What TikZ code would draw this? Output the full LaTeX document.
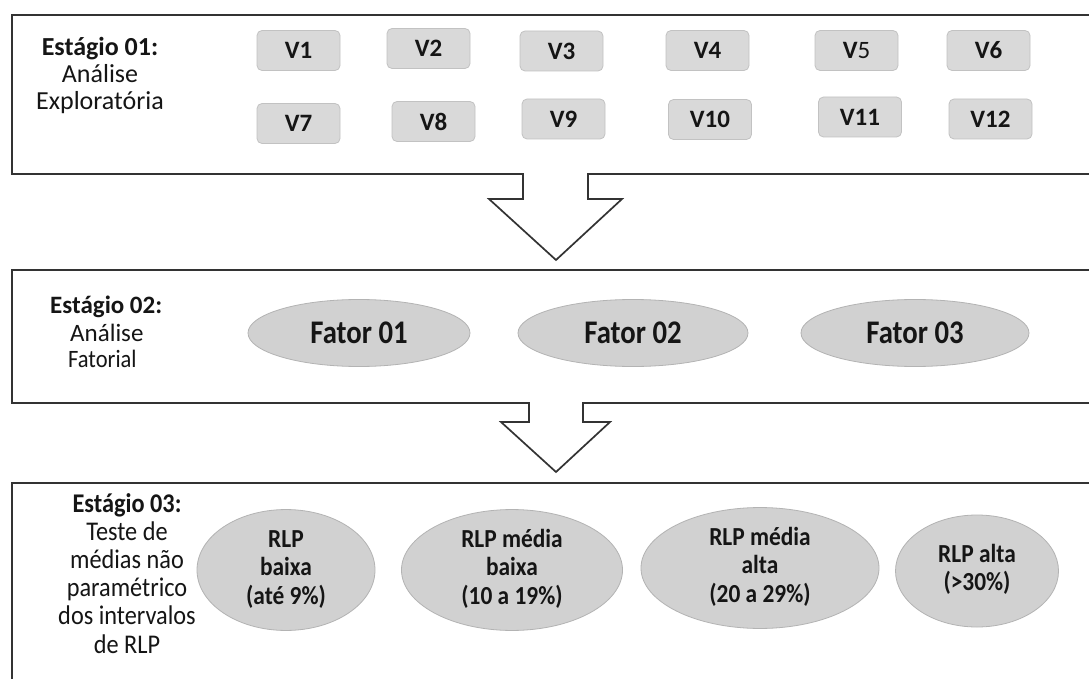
\documentclass[tikz,border=0pt]{standalone}
\usepackage{fontspec}
\setmainfont{Carlito}
\usetikzlibrary{shapes.geometric}
\definecolor{boxline}{HTML}{333333}
\definecolor{vfill}{HTML}{D9D9D9}
\definecolor{vline}{HTML}{C2C2C2}
\definecolor{efill}{HTML}{D1D1D1}
\definecolor{eline}{HTML}{B3B3B3}
\definecolor{txt}{HTML}{151515}
\newcommand{\condtext}[2]{\scalebox{#1}[1]{#2}}
\tikzset{
  frame/.style={draw=boxline, line width=1.7pt, line join=miter},
  vbox/.style={draw=vline, fill=vfill, line width=0.8pt, rounded corners=5pt,
    minimum width=83pt, minimum height=40pt, inner sep=0pt,
    font=\fontsize{25}{28}\selectfont\bfseries, text=txt},
  fator/.style={ellipse, draw=eline, fill=efill, line width=0.8pt, inner sep=0pt,
    minimum height=67pt, font=\fontsize{33}{36}\selectfont\bfseries, text=txt},
  rlp/.style={ellipse, draw=eline, fill=efill, line width=0.8pt, inner sep=0pt,
    align=center, font=\fontsize{26}{28.5}\selectfont\bfseries, text=txt},
  stagelbl/.style={align=center, inner sep=0pt, text=txt},
  lbltwo/.style={inner sep=0pt, anchor=west, text=txt},
}
\begin{document}
\begin{tikzpicture}[x=1pt, y=-1pt]
\useasboundingbox[fill=white] (0,0) rectangle (1089,679);
\clip (0,0) rectangle (1089,679);

% ---- frames with block arrows ----
\coordinate (a1l) at (523,174); \coordinate (a1r) at (588,174);
\coordinate (a1tip) at (556,260);
\draw[frame] (1100,15) -- (12,15) -- (12,174) -- (a1l) -- (523,199) -- (489,199)
  -- (a1tip) -- (622,199) -- (588,199) -- (a1r) -- (1100,174);

\coordinate (a2l) at (529,403); \coordinate (a2r) at (583,403);
\coordinate (a2tip) at (556,472);
\draw[frame] (1100,270) -- (12,270) -- (12,403) -- (a2l) -- (529,422) -- (501,422)
  -- (a2tip) -- (610,422) -- (583,422) -- (a2r) -- (1100,403);

\draw[frame] (1100,483) -- (12,483) -- (12,700);

% ---- stage 1 ----
\node[stagelbl, font=\fontsize{26}{27}\selectfont] (s1) at (100,75)
  {\textbf{Estágio 01:}\\Análise\\Exploratória};

\node[vbox] (v1)  at (298.5,50.5) {V1};
\node[vbox] (v2)  at (428.5,48.5) {V2};
\node[vbox] (v3)  at (561.5,51) {V3};
\node[vbox] (v4)  at (707.5,50.5) {V4};
\node[vbox] (v5)  at (856.5,50.5) {V\mdseries 5};
\node[vbox] (v6)  at (988.5,50.5) {V6};
\node[vbox] (v7)  at (298.5,123.5) {V7};
\node[vbox] (v8)  at (433.5,121.5) {V8};
\node[vbox] (v9)  at (563.5,119) {V9};
\node[vbox] (v10) at (710,119.5) {V10};
\node[vbox] (v11) at (860,117) {V11};
\node[vbox] (v12) at (990.5,119) {V12};

% ---- stage 2 ----
\node[lbltwo, font=\fontsize{25}{27}\selectfont\bfseries] (s2a) at (50,307) {Estágio 02:};
\node[lbltwo, font=\fontsize{25}{27}\selectfont] (s2b) at (70,333) {Análise};
\node[lbltwo, font=\fontsize{25}{27}\selectfont] (s2c) at (68,359) {\condtext{0.9}{Fatorial}};

\node[fator, minimum width=222pt] (f1) at (359,333) {\condtext{0.87}{Fator 01}};
\node[fator, minimum width=230pt] (f2) at (633,333) {\condtext{0.87}{Fator 02}};
\node[fator, minimum width=228pt] (f3) at (915,333) {\condtext{0.87}{Fator 03}};

% ---- stage 3 ----
\node[stagelbl, font=\fontsize{27}{28.2}\selectfont] (s3) at (127,577)
  {\condtext{0.9}{\begin{tabular}{@{}c@{}}\textbf{Estágio 03:}\\Teste de\\médias não\\paramétrico\\dos intervalos\\de RLP\end{tabular}}};

\node[rlp, minimum width=178pt, minimum height=115pt] (c1) at (286,570)
  {\condtext{0.9}{\begin{tabular}{@{}c@{}}RLP\\baixa\\(até 9\%)\end{tabular}}};
\node[rlp, minimum width=221pt, minimum height=113pt] (c2) at (512,570)
  {\condtext{0.9}{\begin{tabular}{@{}c@{}}RLP média\\baixa\\(10 a 19\%)\end{tabular}}};
\node[rlp, minimum width=238pt, minimum height=112pt] (c3) at (760,568)
  {\condtext{0.9}{\begin{tabular}{@{}c@{}}RLP média\\alta\\(20 a 29\%)\end{tabular}}};
\node[rlp, minimum width=163pt, minimum height=112pt] (c4) at (977,571)
  {\condtext{0.9}{\begin{tabular}{@{}c@{}}RLP alta\\(>30\%)\end{tabular}}};
\end{tikzpicture}
\end{document}
